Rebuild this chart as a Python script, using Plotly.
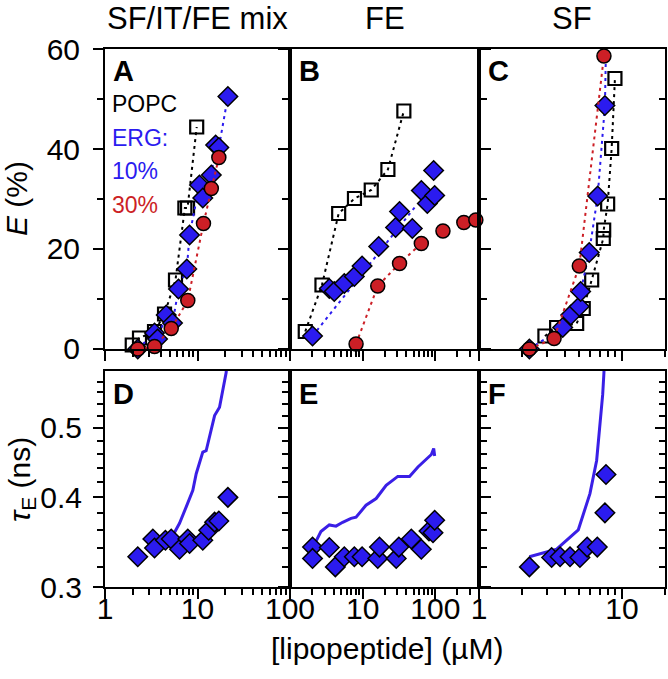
import plotly.graph_objects as go

# ---------------- data ----------------
col_titles = ["SF/IT/FE mix", "FE", "SF"]
top_letters = ["A", "B", "C"]
bot_letters = ["D", "E", "F"]
x_major = [1, 10, 100]
x_major_text = ["1", "10", "100"]

# Panel A (SF/IT/FE mix) - FRET efficiency E (%)
A_popc_x = [1.97, 2.36, 3.43, 4.4, 5.78, 7.3, 7.8, 9.8]
A_popc_y = [0.8, 2.2, 3.5, 7.0, 13.8, 28.2, 28.2, 44.4]
A_erg10_x = [2.26, 3.43, 3.7, 4.59, 5.37, 6.23, 7.66, 8.2, 10.5, 11.4, 14.1, 15.7, 17.0, 21.3]
A_erg10_y = [0.0, 3.2, 2.0, 6.8, 5.2, 12.0, 16.0, 22.8, 32.8, 30.2, 34.8, 40.8, 40.3, 50.5]
A_erg30_x = [2.26, 3.43, 5.2, 7.85, 11.6, 14.1, 17.0]
A_erg30_y = [0.0, 0.5, 4.1, 9.7, 25.1, 32.1, 38.3]

# Panel B (FE)
B_popc_x = [1.62, 2.75, 4.67, 7.7, 13.1, 22.2, 36.8]
B_popc_y = [3.5, 12.8, 27.1, 30.1, 31.8, 35.9, 47.6]
B_erg10_x = [2.04, 3.47, 4.06, 5.58, 7.67, 9.8, 16.6, 28.3, 32.1, 48.1, 64.0, 77.4, 97.7, 94.6]
B_erg10_y = [2.6, 12.1, 11.5, 13.1, 14.5, 16.6, 20.5, 24.3, 27.5, 24.1, 31.7, 29.1, 30.7, 35.7]
B_erg10_fit_x = [2.04, 51.8]
B_erg10_fit_y = [2.6, 28.3]
B_erg30_x = [8.1, 16.1, 32.1, 64.0, 127.0, 246.0, 360.0]
B_erg30_y = [1.0, 12.6, 17.1, 21.1, 23.6, 25.3, 25.8]
B_erg30_fit_x = [8.1, 16.1, 32.1, 64.0]
B_erg30_fit_y = [1.0, 12.6, 17.1, 21.1]

# Panel C (SF)
C_popc_x = [2.89, 3.49, 4.82, 5.36, 6.14, 7.4, 7.45, 7.94, 8.47, 8.93]
C_popc_y = [2.6, 4.3, 5.1, 8.1, 13.8, 22.1, 23.8, 29.0, 40.1, 54.1]
C_erg10_x = [2.25, 3.85, 4.38, 5.03, 5.14, 5.9, 6.76, 7.6, 7.73]
C_erg10_y = [0.0, 4.3, 6.8, 8.5, 11.5, 19.3, 30.6, 48.7, 60.1]
C_erg30_x = [2.25, 3.35, 5.03, 7.48]
C_erg30_y = [0.0, 2.1, 16.6, 58.6]

# Panel D - fluorescence lifetime tau_E (ns), ERG 10 %
D_x = [2.26, 3.29, 3.43, 4.5, 5.2, 6.39, 7.85, 8.2, 11.4, 13.2, 15.3, 17.0, 21.3]
D_tau = [0.3306, 0.350, 0.340, 0.3486, 0.350, 0.3387, 0.350, 0.345, 0.3486, 0.3599, 0.3694, 0.3707, 0.400]
D_line_x = [5.41, 6.39, 7.55, 8.9, 9.68, 11.4, 12.4, 12.9, 15.3, 17.3, 20.4, 21.3]
D_line_tau = [0.354, 0.368, 0.388, 0.409, 0.4315, 0.4625, 0.4645, 0.475, 0.520, 0.534, 0.597, 0.64]

# Panel E
E_x = [2.04, 2.04, 3.47, 4.2, 5.58, 7.67, 9.8, 16.1, 17.0, 28.9, 31.4, 46.6, 64.0, 81.6, 92.7, 97.7]
E_tau = [0.341, 0.3288, 0.3405, 0.320, 0.3306, 0.3306, 0.3306, 0.3288, 0.341, 0.3288, 0.341,
         0.350, 0.3387, 0.359, 0.357, 0.3716]
E_line_x = [2.15, 2.66, 3.47, 4.29, 5.3, 6.9, 8.1, 11.1, 15.3, 21.0, 30.4, 44.1, 57.5, 79.0, 88.0, 94.7, 97.7]
E_line_tau = [0.3434, 0.3584, 0.3661, 0.3647, 0.3692, 0.3739, 0.3753, 0.390, 0.3985, 0.4158, 0.4278,
              0.4278, 0.4409, 0.4554, 0.459, 0.4678, 0.4567]

# Panel F
F_x = [2.25, 3.22, 3.69, 4.33, 5.08, 5.71, 6.72, 7.6, 7.73]
F_tau = [0.320, 0.3298, 0.3306, 0.3306, 0.3298, 0.341, 0.341, 0.3806, 0.4305]
F_line_x = [2.25, 3.49, 4.95, 5.97, 6.65, 7.1, 7.33, 7.48, 7.6]
F_line_tau = [0.3306, 0.3387, 0.3604, 0.4048, 0.4502, 0.5114, 0.5565, 0.597, 0.66]

# ---------------- style ----------------
FONT = "Liberation Sans, Arial, sans-serif"
BLUE = "#2B1BEF"
RED = "#CC1F26"
LINEBLUE = "#3A1FE6"
DOT = "3px,4px"

col_dom = [[0.0, 0.3304], [0.3304, 0.6679], [0.6679, 1.0]]
x_ranges = [[0, 2], [0, 2.6], [0, 1.301]]
top_dom = [0.4424, 1.0]
bot_dom = [0.0, 0.4015]

minor_x = [m * 10 ** d for d in range(0, 3) for m in range(2, 10)]

fig = go.Figure()


def popc(x, y, xa, ya, line=True):
    fig.add_trace(go.Scatter(
        x=x, y=y, xaxis=xa, yaxis=ya, mode="lines+markers" if line else "markers",
        line=dict(color="black", width=2, dash=DOT),
        marker=dict(symbol="square-open", size=13, color="black", line=dict(width=2.2, color="black")),
        cliponaxis=False, showlegend=False))


def diam(x, y, xa, ya, line=True, clip=False):
    fig.add_trace(go.Scatter(
        x=x, y=y, xaxis=xa, yaxis=ya, mode="lines+markers" if line else "markers",
        line=dict(color=BLUE, width=2, dash=DOT),
        marker=dict(symbol="diamond", size=15, color=BLUE, line=dict(width=1.5, color="black")),
        cliponaxis=clip, showlegend=False))


def circ(x, y, xa, ya, line=True):
    fig.add_trace(go.Scatter(
        x=x, y=y, xaxis=xa, yaxis=ya, mode="lines+markers" if line else "markers",
        line=dict(color=RED, width=2, dash=DOT),
        marker=dict(symbol="circle", size=14, color=RED, line=dict(width=1.5, color="black")),
        cliponaxis=False, showlegend=False))


def dotline(x, y, xa, ya, color):
    fig.add_trace(go.Scatter(x=x, y=y, xaxis=xa, yaxis=ya, mode="lines",
                             line=dict(color=color, width=2, dash=DOT),
                             cliponaxis=False, showlegend=False))


def solid(x, y, xa, ya):
    fig.add_trace(go.Scatter(x=x, y=y, xaxis=xa, yaxis=ya, mode="lines",
                             line=dict(color=LINEBLUE, width=3), showlegend=False))


# Panel A
popc(A_popc_x, A_popc_y, "x", "y")
diam(A_erg10_x, A_erg10_y, "x", "y")
circ(A_erg30_x, A_erg30_y, "x", "y")
# Panel B
popc(B_popc_x, B_popc_y, "x2", "y2")
dotline(B_erg10_fit_x, B_erg10_fit_y, "x2", "y2", BLUE)
dotline(B_erg30_fit_x, B_erg30_fit_y, "x2", "y2", RED)
diam(B_erg10_x, B_erg10_y, "x2", "y2", line=False)
circ(B_erg30_x, B_erg30_y, "x2", "y2", line=False)
# Panel C
popc(C_popc_x, C_popc_y, "x3", "y3")
diam(C_erg10_x, C_erg10_y, "x3", "y3")
circ(C_erg30_x, C_erg30_y, "x3", "y3")
# Panels D-F
solid(D_line_x, D_line_tau, "x4", "y4")
diam(D_x, D_tau, "x4", "y4", line=False)
solid(E_line_x, E_line_tau, "x5", "y5")
diam(E_x, E_tau, "x5", "y5", line=False)
solid(F_line_x, F_line_tau, "x6", "y6")
diam(F_x, F_tau, "x6", "y6", line=False)

tickfont = dict(family=FONT, size=30, color="black")
layout = dict(
    width=668, height=679, plot_bgcolor="white", paper_bgcolor="white",
    margin=dict(l=105, r=3, t=49, b=92, autoexpand=False),
    showlegend=False, font=dict(family=FONT, color="black"),
)

for i in range(3):
    n_top = "" if i == 0 else str(i + 1)
    n_bot = str(i + 4)
    n_ov = str(i + 7)
    common_x = dict(type="log", range=x_ranges[i], domain=col_dom[i], showline=True,
                    linecolor="black", linewidth=2, showgrid=False, zeroline=False,
                    tickwidth=1.5, tickcolor="black", tickfont=tickfont)
    layout["xaxis" + n_top] = dict(common_x, anchor="y" + n_top, mirror=True, ticks="outside",
                                   ticklen=10, showticklabels=False, tickvals=x_major,
                                   minor=dict(tickvals=minor_x, ticks="outside", ticklen=6,
                                              tickwidth=1.5, tickcolor="black"))
    layout["xaxis" + n_ov] = dict(type="log", range=x_ranges[i], overlaying="x" + n_top,
                                  anchor="y" + n_top, side="top", showline=False, showgrid=False,
                                  zeroline=False, tickvals=x_major, ticks="inside", ticklen=10,
                                  tickwidth=1.5, tickcolor="black", showticklabels=False,
                                  minor=dict(tickvals=minor_x, ticks="inside", ticklen=6,
                                             tickwidth=1.5, tickcolor="black"))
    bvals = x_major if i != 1 else x_major[1:]
    btext = x_major_text if i != 1 else x_major_text[1:]
    layout["xaxis" + n_bot] = dict(common_x, anchor="y" + n_bot, mirror=True, ticks="outside",
                                   ticklen=10, showticklabels=True, tickvals=bvals, ticktext=btext,
                                   ticklabelstandoff=-16,
                                   minor=dict(tickvals=minor_x, ticks="outside", ticklen=6,
                                              tickwidth=1.5, tickcolor="black"))
    yt = "outside" if i < 2 else "inside"
    ym = True if i == 0 else "ticks"
    layout["yaxis" + n_top] = dict(range=[0, 60], domain=top_dom, anchor="x" + n_top,
                                   showline=True, linecolor="black", linewidth=2, mirror=ym,
                                   showgrid=False, zeroline=False, ticks=yt, ticklen=10,
                                   tickwidth=1.5, tickcolor="black",
                                   tickvals=[0, 20, 40, 60], ticktext=["0", "20", "40", "60"],
                                   showticklabels=(i == 0), tickfont=tickfont, ticklabelstandoff=7,
                                   minor=dict(tickvals=[10, 30, 50], ticks=yt, ticklen=6,
                                              tickwidth=1.5, tickcolor="black"))
    layout["yaxis" + n_bot] = dict(type="log", range=[-0.52288, -0.22185], domain=bot_dom,
                                   anchor="x" + n_bot, showline=True, linecolor="black",
                                   linewidth=2, mirror=ym, showgrid=False, zeroline=False,
                                   ticks=yt, ticklen=10, tickwidth=1.5, tickcolor="black",
                                   tickvals=[0.3, 0.4, 0.5], ticktext=["0.3", "0.4", "0.5"],
                                   showticklabels=(i == 0), tickfont=tickfont, ticklabelstandoff=5,
                                   minor=dict(tickvals=[0.32, 0.34, 0.36, 0.38, 0.42, 0.44, 0.46,
                                                        0.48, 0.52, 0.54, 0.56, 0.58],
                                              ticks=yt, ticklen=6, tickwidth=1.5, tickcolor="black"))

fig.update_layout(**layout)

ann = []
for i in range(3):
    xd = "x" if i == 0 else "x" + str(i + 1)
    ann.append(dict(text=col_titles[i], xref=xd + " domain", yref="paper", x=0.5,
                    y=1 + (49 - 19) / 538,
                    xanchor="center", yanchor="middle", showarrow=False,
                    font=dict(family=FONT, size=31, color="black")))
    ann.append(dict(text="<b>" + top_letters[i] + "</b>", xref=xd + " domain",
                    yref=("y" if i == 0 else "y" + str(i + 1)) + " domain",
                    x=0.035, y=0.985, xanchor="left", yanchor="top", showarrow=False,
                    font=dict(family=FONT, size=29, color="black")))
    ann.append(dict(text="<b>" + bot_letters[i] + "</b>", xref="x" + str(i + 4) + " domain",
                    yref="y" + str(i + 4) + " domain",
                    x=0.035, y=0.975, xanchor="left", yanchor="top", showarrow=False,
                    font=dict(family=FONT, size=29, color="black")))

legend_items = [("POPC", "black", 104), ("ERG:", BLUE, 138), ("10%", BLUE, 171), ("30%", RED, 205)]
for txt, colr, ypix in legend_items:
    ann.append(dict(text=txt, xref="x domain", yref="paper", x=0.025,
                    y=1 + (49 - ypix) / 538, xanchor="left", yanchor="middle", showarrow=False,
                    font=dict(family=FONT, size=23, color=colr)))

ann.append(dict(text="<i>E</i> (%)", xref="paper", yref="paper", x=(16 - 105) / 560,
                y=1 + (49 - 199) / 538, textangle=-90, xanchor="center", yanchor="middle",
                showarrow=False, font=dict(family=FONT, size=30, color="black")))
ann.append(dict(text="<i>τ</i><sub>E</sub> (ns)", xref="paper", yref="paper", x=(21 - 105) / 560,
                y=1 + (49 - 480) / 538, textangle=-90, xanchor="center", yanchor="middle",
                showarrow=False, font=dict(family=FONT, size=30, color="black")))
ann.append(dict(text="[lipopeptide] (µM)", xref="paper", yref="paper", x=(387 - 105) / 560,
                y=(587 - 648) / 538, xanchor="center", yanchor="middle", showarrow=False,
                font=dict(family=FONT, size=30, color="black")))

fig.update_layout(annotations=ann)
fig.write_html("out.html", config={"displayModeBar": False},
               post_script="document.body.style.margin='0px';")
